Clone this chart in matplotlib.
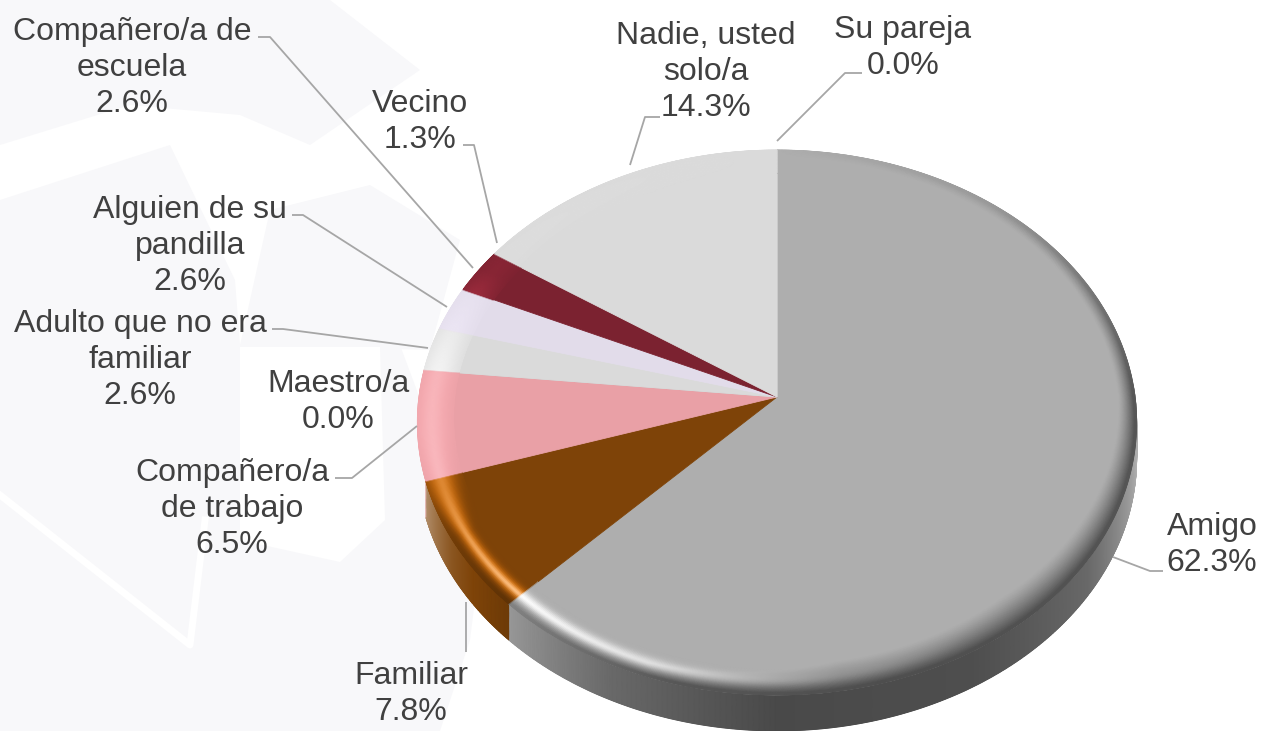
import numpy as np
import matplotlib
matplotlib.use('Agg')
import matplotlib.pyplot as plt
from matplotlib.colors import to_rgb
from matplotlib.transforms import Transform

plt.rcParams['font.family'] = ['Liberation Sans', 'DejaVu Sans']

# clockwise from 12 o'clock
names = ['Amigo', 'Familiar', 'Compañero/a\nde trabajo', 'Maestro/a',
         'Adulto que no era\nfamiliar', 'Alguien de su\npandilla',
         'Compañero/a de\nescuela', 'Vecino', 'Nadie, usted\nsolo/a', 'Su pareja']
values = [62.3, 7.8, 6.5, 0.0, 2.6, 2.6, 2.6, 1.3, 14.3, 0.0]
colors = ['#aeaeae', '#7e4308', '#e9a0a6', '#c9c9c9', '#dadada', '#e2dcea',
          '#7b2230', '#dadada', '#dadada', '#dadada']

label_pos = [(1212, 545), (411, 694), (232, 509), (338, 402), (140, 360),
             (190, 246), (132, 68), (420, 122), (706, 72), (903, 48)]
leaders = [[(1113, 557), (1150, 571), (1163, 571)],
           [(466, 602), (466, 652)],
           [(335, 478), (352, 478), (417, 426)],
           [(272, 329), (283, 329), (428, 348)],
           [(292, 215), (303, 215), (447, 307)],
           [(258, 37), (270, 37), (473, 268)],
           [(463, 145), (474, 145), (497, 243)],
           [(630, 165), (645, 117), (660, 117)],
           [(777, 141), (845, 73), (862, 73)]]

CX, CY, RX, RY, K = 777, 397, 358, 270, 0.0936
DEPTH = 36


def project(u, v):
    # slight perspective, apex sits above the centre of the ellipse
    w = 1 + K * v
    return CX + RX * u / w, CY - RY * v / w


class Persp(Transform):
    input_dims = 2
    output_dims = 2

    def transform_non_affine(self, values):
        x, y = project(values[:, 0], values[:, 1])
        return np.column_stack([x, y])


fig = plt.figure(figsize=(12.62, 7.31), dpi=100)
ax = fig.add_axes([0, 0, 1, 1])

# faint watermark behind the chart
wm = '#f8f8fa'
ax.fill([0, 330, 420, 310, 240, 130, 0], [0, 0, 70, 145, 115, 105, 145], color=wm, lw=0, zorder=0)
ax.fill([0, 170, 235, 240, 400, 480, 470, 440, 0], [200, 145, 280, 345, 345, 560, 640, 731, 731], color=wm, lw=0, zorder=0)
ax.fill([270, 370, 460, 430, 240], [210, 185, 240, 350, 345], color=wm, lw=0, zorder=0)
ax.fill([240, 380, 385, 340, 240], [347, 347, 520, 562, 540], color='white', lw=0, zorder=0.1)
ax.plot([0, 190, 205], [495, 645, 520], color='white', lw=5, zorder=0.1)

# angle (deg clockwise from top) of each sample, colour from the slice it falls in
cum = np.cumsum(values) / np.sum(values) * 360
rgb = np.array([to_rgb(c) for c in colors])


def base_colour(t):
    return rgb[np.clip(np.searchsorted(cum, t), 0, len(values) - 1)]


def with_alpha(c):
    return np.concatenate([c, np.ones(c.shape[:-1] + (1,))], axis=-1)


# side wall
t = np.linspace(88, 252.4, 1000)
d = np.linspace(0, DEPTH, 3)
wall_t = [88, 100, 110, 125, 150, 180, 205, 225, 240, 252.4]
wall_f = [1.0, 1.0, 0.85, 0.6, 0.45, 0.42, 0.6, 0.88, 1.1, 1.4]
f = np.interp(t, wall_t, wall_f)[:, None]
col = base_colour(t)
col = np.where(f <= 1, col * f, col + (1 - col) * (f - 1))
wx, wy = project(np.sin(np.radians(t)), np.cos(np.radians(t)))
X = np.repeat(wx[:, None], len(d), axis=1)
Y = wy[:, None] + d[None, :]
C = with_alpha(np.repeat(col[:, None, :], len(d), axis=1))
ax.pcolormesh(X, Y, C, shading='gouraud', zorder=1)

# top face
wedges, _ = ax.pie(values, colors=colors, startangle=90, counterclock=False,
                   wedgeprops={'linewidth': 0.6, 'zorder': 2})
persp = Persp() + ax.transData
for w in wedges:
    w.set_transform(persp)
    w.set_edgecolor(w.get_facecolor())

# bevel on the rim: coloured glow lower left, dark edge on the right
t = np.linspace(0, 360, 1441)
r = np.linspace(0.9, 1.0, 41)
T, R = np.meshgrid(t, r, indexing='ij')
P = (R - 0.9) / 0.1
glow_amt = np.interp(T, [0, 150, 170, 195, 225, 250, 275, 290, 300, 360],
                     [0.0, 0.0, 0.2, 0.55, 1.0, 0.75, 0.7, 0.35, 0.1, 0.0])
glow_w = np.interp(T, [0, 240, 262, 360], [0.18, 0.18, 0.55, 0.55])
dark_amt = np.interp(T, [0, 40, 90, 165, 195, 225, 250, 360],
                     [0.0, 0.12, 0.5, 0.55, 0.5, 0.25, 0.0, 0.0])
dark_from = np.interp(T, [0, 90, 140, 170, 200, 360], [0.7, 0.55, 0.1, 0.1, 0.6, 0.6])
glow = glow_amt * np.exp(-((P - 0.6) / glow_w) ** 2)
dark = dark_amt * np.clip((P - dark_from) / (0.95 - dark_from), 0, 1) ** 1.3
col = base_colour(T)
bright = col / col.max(axis=-1, keepdims=True)
bright = bright + (1 - bright) * (glow[..., None] ** 3) * 0.5
col = col + (bright - col) * glow[..., None]
col = col * (1 - dark[..., None])
bx, by = project(R * np.sin(np.radians(T)), R * np.cos(np.radians(T)))
ax.pcolormesh(bx, by, with_alpha(col), shading='gouraud', zorder=3)

ax.set_aspect('auto')
ax.set_xlim(0, 1262)
ax.set_ylim(731, 0)
ax.axis('off')

for pts in leaders:
    ax.plot(*zip(*pts), color='#a6a6a6', lw=1.3, zorder=4, solid_capstyle='butt')

for name, val, (lx, ly) in zip(names, values, label_pos):
    ax.text(lx, ly, f'{name}\n{val:.1f}%', ha='center', va='center', fontsize=23,
            color='#404040', linespacing=1.28, zorder=5)

fig.savefig('out.png', dpi=100, facecolor='white')
